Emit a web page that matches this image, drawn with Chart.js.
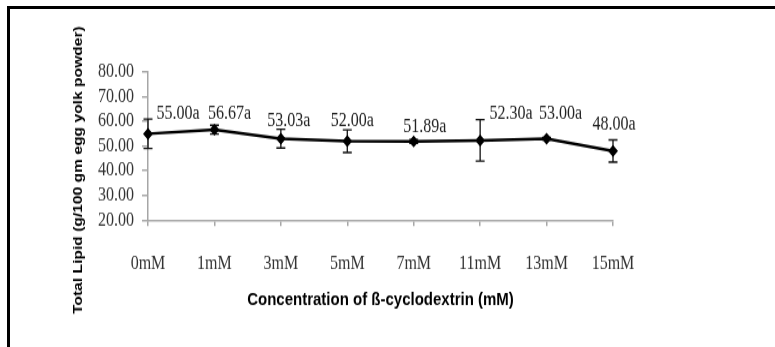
<!DOCTYPE html>
<html>
<head>
<meta charset="utf-8">
<script src="https://cdn.jsdelivr.net/npm/chart.js@4.4.1/dist/chart.umd.min.js"></script>
<style>
  html, body { margin: 0; padding: 0; background: #fff; overflow: hidden; }
  #wrap { position: absolute; left: 0; top: 0; width: 775px; height: 289px; transform: scaleY(1.2007); transform-origin: 0 0; }
  #frame { position: absolute; left: 7px; top: 6px; width: 800px; height: 400px; border-top: 3px solid #000; border-left: 3px solid #000; }
</style>
</head>
<body>
<div id="wrap"><canvas id="chart" width="775" height="289"></canvas></div>
<div id="frame"></div>
<script>
const categories = ["0mM", "1mM", "3mM", "5mM", "7mM", "11mM", "13mM", "15mM"];
const lipidValues = [55.00, 56.67, 53.03, 52.00, 51.89, 52.30, 53.00, 48.00];
const errorValues = [6.0, 1.8, 3.8, 4.6, 0.8, 8.4, 0.5, 4.5];
const letters = ["a", "a", "a", "a", "a", "a", "a", "a"];
const yTicks = [20, 30, 40, 50, 60, 70, 80];

// label placement (px, canvas space) - the labels sit where they were hand placed
const labelOffsets = [[30, -17], [15, -13], [8, -15], [5, -17], [11, -12], [31, -22], [14, -21], [1, -22]];

const serif = "'Liberation Serif', 'Times New Roman', serif";
const sans = "'Liberation Sans', Arial, sans-serif";
const yTitle = "Total Lipid (g/100 gm egg yolk powder)";

const errorBars = {
    id: 'errorBars',
    beforeDatasetsDraw(chart) {
        const ctx = chart.ctx;
        const meta = chart.getDatasetMeta(0);
        const y = chart.scales.y;
        ctx.save();
        ctx.strokeStyle = '#111';
        ctx.lineWidth = 1.3;
        meta.data.forEach((pt, i) => {
            const top = y.getPixelForValue(lipidValues[i] + errorValues[i]);
            const bot = y.getPixelForValue(lipidValues[i] - errorValues[i]);
            ctx.beginPath();
            ctx.moveTo(pt.x, top); ctx.lineTo(pt.x, bot);
            ctx.moveTo(pt.x - 4.5, top); ctx.lineTo(pt.x + 4.5, top);
            ctx.moveTo(pt.x - 4.5, bot); ctx.lineTo(pt.x + 4.5, bot);
            ctx.stroke();
        });
        ctx.restore();
    }
};

const valueLabels = {
    id: 'valueLabels',
    afterDatasetsDraw(chart) {
        const ctx = chart.ctx;
        const meta = chart.getDatasetMeta(0);
        ctx.save();
        ctx.font = "16px " + serif;
        ctx.fillStyle = '#222';
        ctx.textAlign = 'center';
        ctx.textBaseline = 'middle';
        meta.data.forEach((pt, i) => {
            const off = labelOffsets[i];
            ctx.fillText(lipidValues[i].toFixed(2) + letters[i], pt.x + off[0], pt.y + off[1]);
        });
        ctx.restore();
    }
};

const sideTitle = {
    id: 'sideTitle',
    afterDraw(chart) {
        const ctx = chart.ctx;
        ctx.save();
        ctx.translate(78, 141.7);
        ctx.rotate(-Math.PI / 2);
        ctx.font = "bold 13px " + sans;
        ctx.fillStyle = '#000';
        ctx.textAlign = 'center';
        ctx.textBaseline = 'middle';
        ctx.fillText(yTitle, 0, 0);
        ctx.restore();
    }
};

new Chart(document.getElementById('chart'), {
    type: 'line',
    data: {
        labels: categories,
        datasets: [{
            data: lipidValues,
            borderColor: '#000',
            borderWidth: 2.5,
            backgroundColor: '#000',
            pointStyle: 'rectRot',
            pointRadius: 5,
            pointBorderWidth: 0,
            tension: 0
        }]
    },
    options: {
        responsive: false,
        animation: false,
        layout: { padding: { top: 60, right: 162, bottom: 0, left: 0 } },
        plugins: { legend: { display: false }, tooltip: { enabled: false } },
        scales: {
            x: {
                afterFit(scale) { scale.height = 105.7; },
                grid: { drawOnChartArea: false, tickLength: 5, color: '#a6a6a6', lineWidth: 1.5 },
                border: { color: '#a6a6a6', width: 1.5 },
                ticks: { padding: 22, color: '#333', font: { family: serif, size: 16 }, maxRotation: 0 },
                title: {
                    display: true,
                    text: 'Concentration of ß-cyclodextrin (mM)',
                    color: '#000',
                    font: { family: sans, size: 15, weight: 'bold' },
                    padding: { top: 30, bottom: 30 }
                }
            },
            y: {
                min: yTicks[0],
                max: yTicks[yTicks.length - 1],
                afterFit(scale) { scale.width = 148; },
                afterBuildTicks(scale) { scale.ticks = yTicks.map(v => ({ value: v })); },
                grid: { drawOnChartArea: false, tickLength: 6, color: '#a6a6a6', lineWidth: 1.5 },
                border: { color: '#a6a6a6', width: 1.5 },
                ticks: {
                    autoSkip: false,
                    padding: 8,
                    color: '#333',
                    font: { family: serif, size: 16 },
                    callback: v => v.toFixed(2)
                },
                title: { display: false, text: yTitle }
            }
        }
    },
    plugins: [errorBars, valueLabels, sideTitle]
});
</script>
</body>
</html>
